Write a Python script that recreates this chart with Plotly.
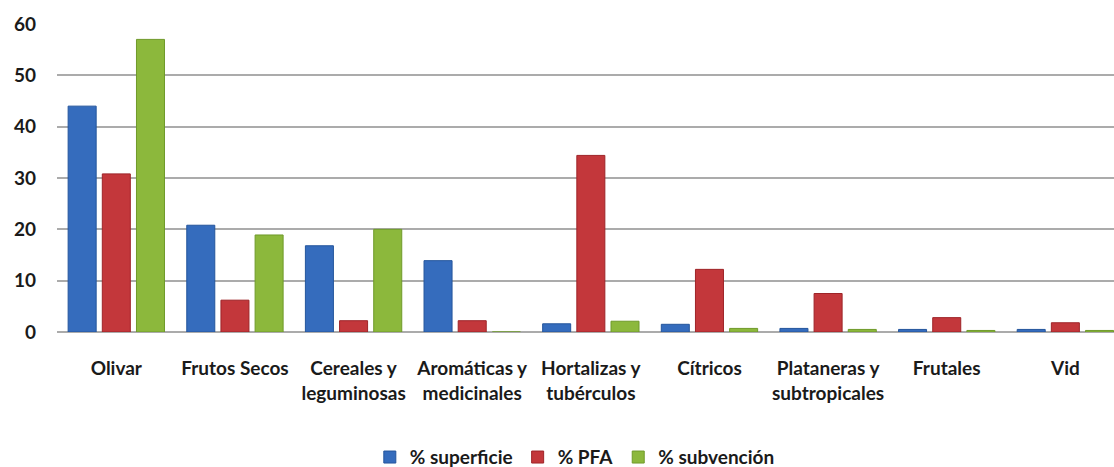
import plotly.graph_objects as go

categories = ["Olivar", "Frutos Secos", "Cereales y<br>leguminosas", "Aromáticas y<br>medicinales",
              "Hortalizas y<br>tubérculos", "Cítricos", "Plataneras y<br>subtropicales", "Frutales", "Vid"]
superficie = [44, 20.8, 16.8, 13.9, 1.6, 1.5, 0.7, 0.5, 0.5]
pfa = [30.8, 6.2, 2.2, 2.2, 34.4, 12.2, 7.5, 2.8, 1.8]
subvencion = [57, 18.9, 20, 0, 2.1, 0.7, 0.5, 0.3, 0.3]
series_names = ["% superficie", "% PFA", "% subvención"]
y_ticks = [0, 10, 20, 30, 40, 50, 60]

colors = ["#356CBD", "#C3373B", "#8CB83C"]
edges = ["#24559C", "#9E2428", "#6F9A2A"]
font_family = "Lato, Roboto, sans-serif"

fig = go.Figure()
for name, vals, c, e in zip(series_names, [superficie, pfa, subvencion], colors, edges):
    fig.add_trace(go.Bar(x=categories, y=vals, name=name,
                         marker=dict(color=c, line=dict(color=e, width=1))))

fig.update_layout(
    width=1114, height=467,
    margin=dict(l=57, r=0, t=24, b=135, autoexpand=False),
    paper_bgcolor="white", plot_bgcolor="white",
    barmode="group", bargap=0.136, bargroupgap=0.18,
    font=dict(family=font_family, size=19, color="#1a1a1a"),
    showlegend=True,
    legend=dict(orientation="h", x=0.516, xref="container", xanchor="center",
                y=0.021, yref="container", yanchor="middle",
                font=dict(size=19, family=font_family, color="#1a1a1a", weight="bold"),
                itemwidth=30, traceorder="normal"),
    xaxis=dict(showgrid=False, showline=False, ticks="", range=[-0.5, 8.41],
               ticklabelstandoff=23, automargin=False,
               tickfont=dict(size=19, family=font_family, weight="bold", color="#1a1a1a")),
    yaxis=dict(range=[0, 60], tickvals=y_ticks, showgrid=True, gridcolor="#ABABAB", gridwidth=2,
               zeroline=True, zerolinecolor="#ABABAB", zerolinewidth=2, showline=False,
               ticks="", ticklabelstandoff=20, automargin=False,
               tickfont=dict(size=19, family=font_family, weight="bold", color="#1a1a1a")),
)

fig.write_html("out.html", config={"displayModeBar": False},
               post_script="document.body.style.margin='0';")
